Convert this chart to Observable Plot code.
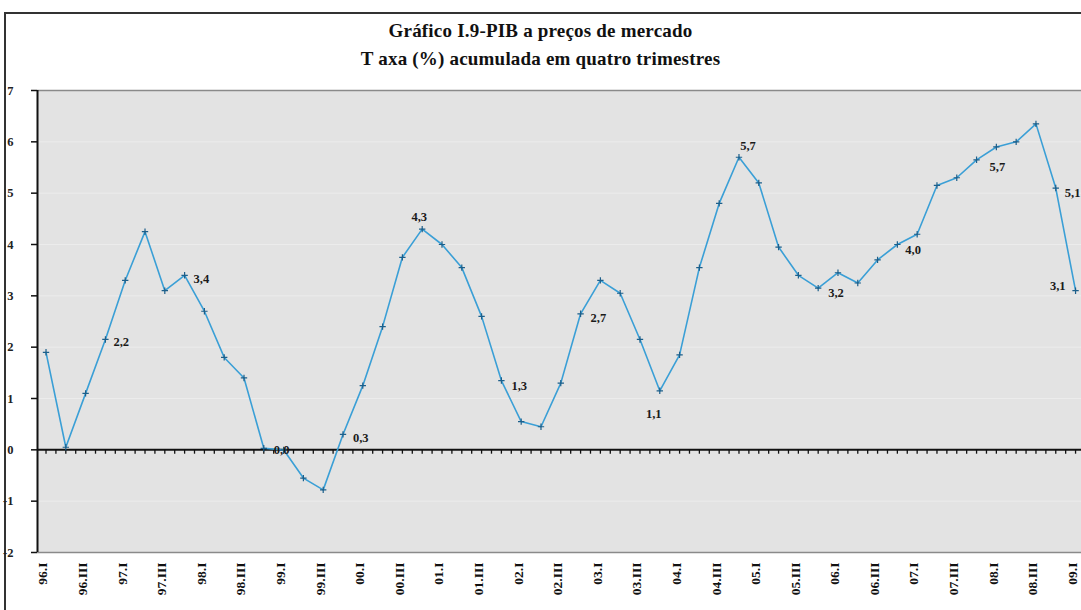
<!DOCTYPE html>
<html>
<head>
<meta charset="utf-8">
<script src="https://cdn.jsdelivr.net/npm/d3@7"></script>
<script src="https://cdn.jsdelivr.net/npm/@observablehq/plot@0.6"></script>
<style>
  html, body { margin: 0; padding: 0; background: #fff; }
  #wrap { position: relative; width: 1081px; height: 610px; overflow: hidden; }
  #border { position: absolute; left: 4px; top: 12px; width: 1100px; height: 620px;
            border-left: 2px solid #333; border-top: 2px solid #333; box-sizing: border-box; }
  .title { position: absolute; left: 0; width: 1081px; text-align: center;
           font-family: "Liberation Serif", "DejaVu Serif", serif; font-weight: bold;
           font-size: 19px; color: #111; letter-spacing: 0.2px; }
  #chart { position: absolute; left: 0; top: 0; }
</style>
</head>
<body>
<div id="wrap">
  <div id="border"></div>
  <div class="title" style="top:20px">Gráfico I.9-PIB a preços de mercado</div>
  <div class="title" style="top:48px">T axa (%) acumulada em quatro trimestres</div>
  <div id="chart"></div>
</div>
<script>
// --- data ---
const years = ["96","97","98","99","00","01","02","03","04","05","06","07","08","09"];
const romans = ["I","II","III","IV"];
const values = [1.9, 0.05, 1.1, 2.15, 3.3, 4.25, 3.1, 3.4, 2.7, 1.8, 1.4, 0.03,
  0.0, -0.55, -0.78, 0.3, 1.25, 2.4, 3.75, 4.3, 4.0, 3.55, 2.6, 1.35,
  0.55, 0.45, 1.3, 2.65, 3.3, 3.05, 2.15, 1.15, 1.85, 3.55, 4.8, 5.7,
  5.2, 3.95, 3.4, 3.15, 3.45, 3.25, 3.7, 4.0, 4.2, 5.15, 5.3, 5.65,
  5.9, 6.0, 6.35, 5.1, 3.1];
const labelQuarters = ["96.IV","97.IV","98.IV","99.IV","00.IV","01.IV","02.IV","03.IV","04.IV","05.IV","06.IV","07.IV","08.IV","09.I"];
const labelTexts = ["2,2","3,4","0,0","0,3","4,3","1,3","2,7","1,1","5,7","3,2","4,0","5,7","5,1","3,1"];
const yTicks = [-2,-1,0,1,2,3,4,5,6,7];

// quarter names
const quarters = [];
years.forEach(y => romans.forEach(r => quarters.push(y + "." + r)));
quarters.length = values.length;

const rows = values.map((v, i) => ({q: quarters[i], i, v}));
const labelRows = labelQuarters.map((q, k) => ({q, i: quarters.indexOf(q), v: values[quarters.indexOf(q)], t: labelTexts[k]}));

// label placement (pixels, relative to point)
const place = {
  "96.IV": [8, 3, "start"], "97.IV": [9, 4, "start"], "98.IV": [10, 2, "start"],
  "99.IV": [10, 4, "start"], "00.IV": [-3, -12, "middle"], "01.IV": [10, 5, "start"],
  "02.IV": [10, 4, "start"], "03.IV": [-6, 23, "middle"], "04.IV": [9, -11, "middle"],
  "05.IV": [10, 5, "start"], "06.IV": [8, 5, "start"], "07.IV": [13, 7, "start"],
  "08.IV": [9, 5, "start"], "09.I": [-10, -5, "end"]
};

const xDomain = [-0.43, 52.3];
const halfTicks = d3.range(0, 52.6, 0.5);
const evenIdx = d3.range(0, values.length, 2);
const font = "'Liberation Serif', 'DejaVu Serif', serif";

const labelMarks = labelRows.map(d => Plot.text([d], {
  x: "i", y: "v", text: "t", dx: place[d.q][0], dy: place[d.q][1], textAnchor: place[d.q][2],
  fontFamily: font, fontWeight: "bold", fontSize: 12.5, fill: "#1a1a1a"
}));

const chart = Plot.plot({
  width: 1081,
  height: 610,
  marginTop: 90,
  marginBottom: 58,
  marginLeft: 37,
  marginRight: 0,
  style: {background: "transparent", fontFamily: font, overflow: "visible"},
  x: {type: "linear", domain: xDomain, label: null},
  y: {domain: [-2, 7], label: null},
  marks: [
    Plot.frame({fill: "#e3e3e3", stroke: null}),
    Plot.ruleY(yTicks.filter(t => t !== 0 && t !== 7 && t !== -2), {stroke: "#ececec", strokeWidth: 1}),
    Plot.ruleY([7, -2], {stroke: "#8a8a8a", strokeWidth: 1.5}),
    Plot.ruleX([xDomain[0]], {stroke: "#111", strokeWidth: 2}),
    Plot.axisY({ticks: yTicks, label: null, tickSize: 6, tickPadding: 18, tickFormat: d => String(d),
      fontWeight: "bold", fontSize: 12.5, fill: "#222", stroke: "#111", strokeWidth: 1.5}),
    Plot.axisX({ticks: evenIdx, label: null, tickFormat: i => quarters[i], tickRotate: -90, tickSize: 0, tickPadding: 10,
      dx: -3, fontWeight: "bold", fontSize: 13.5, fill: "#111"}),
    Plot.ruleY([0], {stroke: "#111", strokeWidth: 2}),
    Plot.ruleX(halfTicks, {x: d => d, y1: 0, y2: -0.085, stroke: "#111", strokeWidth: 1.3}),
    Plot.line(rows, {x: "i", y: "v", stroke: "#3a9fd6", strokeWidth: 1.6}),
    Plot.dot(rows, {x: "i", y: "v", symbol: "plus", r: 2.2, stroke: "#1d5f8a", strokeWidth: 1.2}),
    ...labelMarks
  ]
});
document.getElementById("chart").appendChild(chart);
</script>
</body>
</html>
